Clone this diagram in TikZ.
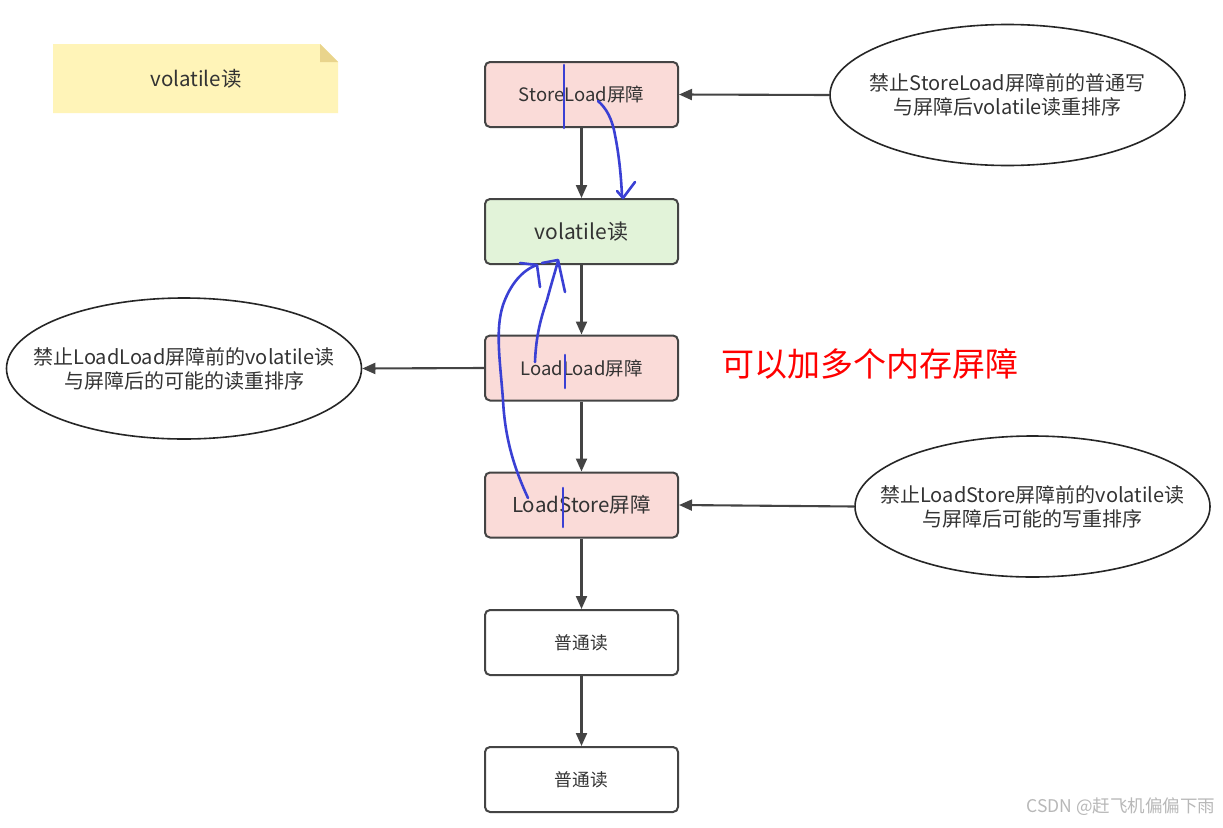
\documentclass[tikz,border=0pt]{standalone}
\usepackage{fontspec}
\newfontfamily\cjk{Noto Sans CJK SC}
\usetikzlibrary{arrows.meta,shapes.geometric}
\definecolor{txt}{HTML}{333333}
\definecolor{edge}{HTML}{444444}
\definecolor{pinkf}{HTML}{FADBD8}
\definecolor{greenf}{HTML}{E2F3D9}
\definecolor{notef}{HTML}{FFF4B8}
\definecolor{foldf}{HTML}{E9D48C}
\definecolor{pen}{HTML}{3A40D4}
\tikzset{
  every node/.style={font=\cjk\fontsize{18.5}{22}\selectfont, text=txt},
  stepbox/.style={draw=edge, line width=2pt, rounded corners=5pt, minimum width=193pt, minimum height=65pt, inner sep=0pt},
  oval/.style={ellipse, draw=black!85, line width=1.6pt, minimum width=355pt, minimum height=141pt, inner sep=0pt},
  ovaltext/.style={align=center, inner sep=0pt, font=\cjk\fontsize{20}{24}\selectfont},
  arr/.style={draw=edge, line width=2.1pt, -{Triangle[length=13pt,width=11pt]}},
  penline/.style={draw=pen, line width=2.6pt, line cap=round, line join=round}
}
\begin{document}
\begin{tikzpicture}[x=1pt,y=-1pt]
\useasboundingbox (0,0) rectangle (1223,827);
\fill[white] (0,0) rectangle (1223,827);
% note
\fill[notef] (53,44) -- (320,44) -- (338,62) -- (338,113) -- (53,113) -- cycle;
\fill[foldf] (320,44) -- (338,62) -- (320,62) -- cycle;
\node (note) at (196,79) {\fontsize{20.5}{24}\selectfont volatile读};
% boxes
\node[stepbox, fill=pinkf] (sl) at (581.5,94.5) {StoreLoad屏障};
\node[stepbox, fill=greenf] (vr) at (581.5,231.5) {\fontsize{21}{24}\selectfont volatile读};
\node[stepbox, fill=pinkf] (ll) at (581.5,368) {LoadLoad屏障};
\node[stepbox, fill=pinkf] (ls) at (581.5,505) {\fontsize{20.5}{24}\selectfont LoadStore屏障};
\node[stepbox, fill=white] (n1) at (581.5,642.5) {\fontsize{17.7}{22}\selectfont 普通读};
\node[stepbox, fill=white] (n2) at (581.5,779.5) {\fontsize{17.7}{22}\selectfont 普通读};
% ellipses
\node[oval] (e1) at (1007.5,95) {};
\node[ovaltext] (e1t) at (e1.center) {禁止StoreLoad屏障前的普通写\\与屏障后volatile读重排序};
\node[oval] (e2) at (184,368.5) {};
\node[ovaltext] (e2t) at (e2.center) {禁止LoadLoad屏障前的volatile读\\与屏障后的可能的读重排序};
\node[oval] (e3) at (1032.5,506.5) {};
\node[ovaltext] (e3t) at (e3.center) {禁止LoadStore屏障前的volatile读\\与屏障后可能的写重排序};
% connectors
\draw[arr] (sl) -- (vr);
\draw[arr] (vr) -- (ll);
\draw[arr] (ll) -- (ls);
\draw[arr] (ls) -- (n1);
\draw[arr] (n1) -- (n2);
\draw[arr] (e1.west) -- (sl.east);
\draw[arr] (ll.west) -- (e2.east);
\draw[arr] (e3.west) -- (ls.east);
% red remark
\node[text=red, font=\cjk\fontsize{33}{38}\selectfont, anchor=west] (rem) at (718,364) {可以加多个内存屏障};
% watermark
\node[text=black!28, font=\cjk\fontsize{17.5}{22}\selectfont, anchor=east] (wm) at (1219,807) {CSDN @赶飞机偏偏下雨};
% pen strokes
\draw[penline] (564,65) -- (564,128);
\draw[penline] (565,355) -- (565,388);
\draw[penline] (563,488) -- (563,527);
\draw[penline] (598,101) .. controls (606,108) and (612,118) .. (615,135) .. controls (619,155) and (621,175) .. (622,196);
\draw[penline] (617,191) -- (623,198) -- (635,182);
\draw[penline] (535,362) .. controls (536,335) and (541,318) .. (547,300) .. controls (551,285) and (555,272) .. (558,261);
\draw[penline] (542,263) -- (558,260) -- (565,292);
\draw[penline] (528,498) .. controls (515,470) and (505,440) .. (503,400) .. controls (500,360) and (495,330) .. (503,305) .. controls (510,285) and (522,270) .. (537,265);
\draw[penline] (520,263) -- (537,265) -- (540,287);
\end{tikzpicture}
\end{document}
